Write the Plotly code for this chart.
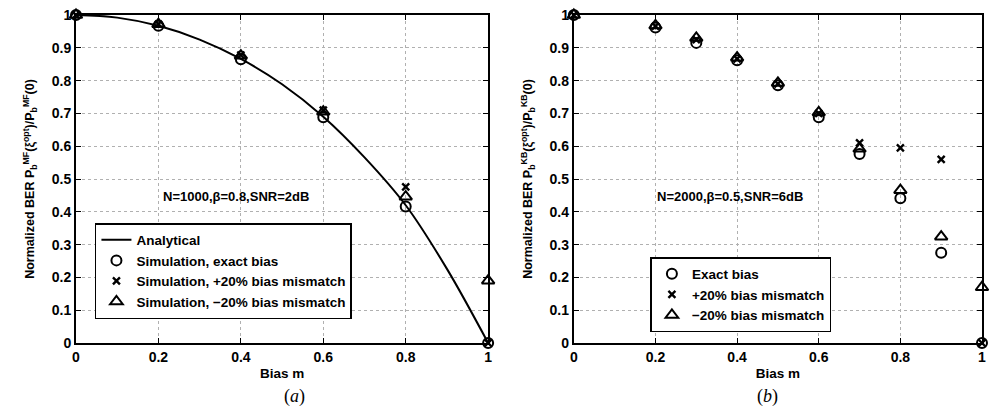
import plotly.graph_objects as go
from plotly.subplots import make_subplots

# ---- data (a) ----
a_bias = [0, 0.2, 0.4, 0.6, 0.8, 1.0]
a_exact = [1.0, 0.967, 0.865, 0.688, 0.416, 0.0]
a_plus20 = [1.0, 0.972, 0.878, 0.71, 0.476, 0.0]
a_minus20 = [1.0, 0.972, 0.876, 0.705, 0.446, 0.19]
a_curve_m = [0, 0.1, 0.2, 0.3, 0.4, 0.5, 0.6, 0.7, 0.8, 0.9, 1.0]
a_curve_v = [1.0, 0.992, 0.967, 0.925, 0.866, 0.789, 0.69, 0.566, 0.42, 0.226, 0.0]

# ---- data (b) ----
b_bias = [0, 0.2, 0.3, 0.4, 0.5, 0.6, 0.7, 0.8, 0.9, 1.0]
b_exact = [1.0, 0.962, 0.915, 0.862, 0.786, 0.688, 0.576, 0.441, 0.275, 0.0]
b_plus20 = [1.0, 0.966, 0.925, 0.866, 0.79, 0.70, 0.61, 0.595, 0.56, 0.0]
b_minus20 = [1.0, 0.968, 0.93, 0.87, 0.793, 0.703, 0.592, 0.466, 0.324, 0.17]

yticks = [0, 0.1, 0.2, 0.3, 0.4, 0.5, 0.6, 0.7, 0.8, 0.9, 1.0]
yticklabels = ["0", "0.1", "0.2", "0.3", "0.4", "0.5", "0.6", "0.7", "0.8", "0.9", "1"]
xticks = [0, 0.2, 0.4, 0.6, 0.8, 1.0]
xticklabels = ["0", "0.2", "0.4", "0.6", "0.8", "1"]

FONT = "Liberation Sans"
TICKF = dict(family=FONT, size=14, color="black", weight="bold")
TITLEF = dict(family=FONT, size=13.5, color="black", weight="bold")
YTITLEF = dict(family=FONT, size=12.5, color="black", weight="bold")

fig = make_subplots(rows=1, cols=2, horizontal_spacing=0.0949)
fig.update_layout(xaxis=dict(domain=[0, 0.4549]), xaxis2=dict(domain=[0.5495, 1.0]))

circ = dict(symbol="circle-open", size=10, color="black", line=dict(width=2, color="black"))
xmk = dict(symbol="x-thin", size=7, color="black", line=dict(width=2.4, color="black"))
tri = dict(symbol="triangle-up-open", size=11, color="black", line=dict(width=2, color="black"))

fig.add_trace(go.Scatter(x=a_curve_m, y=a_curve_v, mode="lines", line=dict(color="black", width=2, shape="spline"),
                         name="Analytical", legend="legend", cliponaxis=False), 1, 1)
fig.add_trace(go.Scatter(x=a_bias, y=a_exact, mode="markers", marker=circ,
                         name="Simulation, exact bias", legend="legend", cliponaxis=False), 1, 1)
fig.add_trace(go.Scatter(x=a_bias, y=a_plus20, mode="markers", marker=xmk,
                         name="Simulation, +20% bias mismatch", legend="legend", cliponaxis=False), 1, 1)
fig.add_trace(go.Scatter(x=a_bias, y=a_minus20, mode="markers", marker=tri,
                         name="Simulation, \u221220% bias mismatch", legend="legend", cliponaxis=False), 1, 1)

fig.add_trace(go.Scatter(x=b_bias, y=b_exact, mode="markers", marker=circ,
                         name="Exact bias", legend="legend2", cliponaxis=False), 1, 2)
fig.add_trace(go.Scatter(x=b_bias, y=b_plus20, mode="markers", marker=xmk,
                         name="+20% bias mismatch", legend="legend2", cliponaxis=False), 1, 2)
fig.add_trace(go.Scatter(x=b_bias, y=b_minus20, mode="markers", marker=tri,
                         name="\u221220% bias mismatch", legend="legend2", cliponaxis=False), 1, 2)

axis_common = dict(range=[0, 1], showline=True, linecolor="black", linewidth=2, mirror="ticks",
                   ticks="inside", ticklen=5, tickwidth=1, tickcolor="black",
                   showgrid=True, gridcolor="#b0b0b0", griddash="dot", gridwidth=1,
                   zeroline=False, tickfont=TICKF)

for xa in ["xaxis", "xaxis2"]:
    fig.update_layout({xa: dict(**axis_common, tickvals=xticks, ticktext=xticklabels,
                                title=dict(text="Bias m", font=TITLEF, standoff=5))})

fig.update_layout(yaxis=dict(**axis_common, tickvals=yticks, ticktext=yticklabels,
                             title=dict(text="Normalized BER P<sub>b</sub><sup>MF</sup>(\u03be<sup>opt</sup>)/P<sub>b</sub><sup>MF</sup>(0)",
                                        font=YTITLEF, standoff=14)))
fig.update_layout(yaxis2=dict(**axis_common, tickvals=yticks, ticktext=yticklabels,
                              title=dict(text="Normalized BER P<sub>b</sub><sup>KB</sup>(\u03be<sup>opt</sup>)/P<sub>b</sub><sup>KB</sup>(0)",
                                         font=YTITLEF, standoff=14)))

legend_common = dict(bgcolor="white", bordercolor="black", borderwidth=1.5,
                     font=dict(family=FONT, size=13.5, color="black", weight="bold"),
                     xanchor="left", yanchor="bottom", tracegroupgap=0, itemwidth=30)
fig.update_layout(
    legend=dict(**legend_common, x=0.0209, y=0.073),
    legend2=dict(**legend_common, x=0.634, y=0.0335),
    showlegend=True,
)

fig.add_annotation(x=0.389, y=0.446, xref="x", yref="y", text="N=1000,\u03b2=0.8,SNR=2dB",
                   showarrow=False, font=dict(family=FONT, size=13, color="black", weight="bold"))
fig.add_annotation(x=0.383, y=0.448, xref="x2", yref="y2", text="N=2000,\u03b2=0.5,SNR=6dB",
                   showarrow=False, font=dict(family=FONT, size=13, color="black", weight="bold"))

fig.add_annotation(x=0.2275, y=-0.20, xref="paper", yref="paper", text="(<i>a</i>)",
                   showarrow=False, font=dict(family="Liberation Serif", size=18, color="black"))
fig.add_annotation(x=0.777, y=-0.20, xref="paper", yref="paper", text="(<i>b</i>)",
                   showarrow=False, font=dict(family="Liberation Serif", size=18, color="black"))

fig.update_layout(width=990, height=412, margin=dict(l=76, r=4, t=15, b=69),
                  plot_bgcolor="white", paper_bgcolor="white",
                  font=dict(family=FONT, color="black"))

fig.write_html("out.html")
